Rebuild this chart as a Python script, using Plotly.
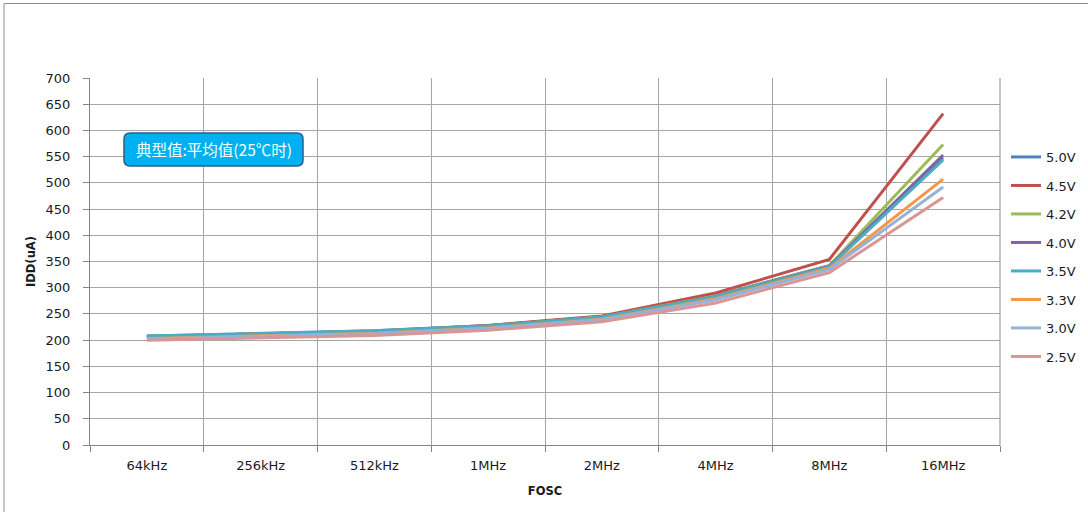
import plotly.graph_objects as go

categories = ["64kHz", "256kHz", "512kHz", "1MHz", "2MHz", "4MHz", "8MHz", "16MHz"]
series_names = ["5.0V", "4.5V", "4.2V", "4.0V", "3.5V", "3.3V", "3.0V", "2.5V"]
v50 = [208, 213, 218, 228, 245, 285, 342, 548]
v45 = [207, 212, 217, 228, 246, 290, 354, 632]
v42 = [207, 212, 217, 227, 244, 284, 342, 573]
v40 = [206, 211, 216, 226, 243, 283, 341, 553]
v35 = [208, 212, 218, 227, 244, 283, 340, 544]
v33 = [203, 208, 213, 223, 240, 279, 337, 507]
v30 = [202, 207, 212, 222, 239, 277, 335, 492]
v25 = [200, 204, 209, 219, 235, 271, 329, 472]
series_values = [v50, v45, v42, v40, v35, v33, v30, v25]
colors = ["#4F81BD", "#C0504D", "#9BBB59", "#8064A2", "#4BACC6", "#F79646", "#95B3D7", "#D99694"]
y_ticks = list(range(0, 701, 50))
note_text = "典型值:平均值(25℃时)"

W, H = 1088, 512
L, R, T, B = 90, 88, 78, 67
pw, ph = W - L - R, H - T - B

def px_x(x):
    return (x - L) / pw

def px_y(y):
    return (H - B - y) / ph

fig = go.Figure()
for name, vals, col in zip(series_names, series_values, colors):
    fig.add_trace(go.Scatter(
        x=categories, y=vals, name=name, mode="lines",
        line=dict(color=col, width=3), legendgroup=name,
    ))

grid = "#A6A6A6"
axis_col = "#868686"
base_font = "DejaVu Sans, Verdana, sans-serif"
fig.update_layout(
    width=W, height=H,
    margin=dict(l=L, r=R, t=T, b=B, autoexpand=False),
    paper_bgcolor="white", plot_bgcolor="white",
    font=dict(family=base_font, size=13, color="#1A1A1A"),
    showlegend=True,
    legend=dict(
        x=px_x(1006), y=px_y(142), xanchor="left", yanchor="top",
        traceorder="grouped", tracegroupgap=8.6,
        font=dict(size=13, color="#1A1A1A"),
        bgcolor="rgba(0,0,0,0)", itemwidth=30,
    ),
    xaxis=dict(
        type="category", categoryorder="array", categoryarray=categories,
        range=[-0.5, len(categories) - 0.5],
        showgrid=True, gridcolor=grid, gridwidth=1.3, tickson="boundaries",
        ticks="outside", ticklen=6, tickcolor=axis_col,
        showline=True, linecolor=axis_col, linewidth=1, mirror=False,
        tickfont=dict(size=13), ticklabelstandoff=8,
        title=dict(text="<b>FOSC</b>", font=dict(size=11.5), standoff=15),
        zeroline=False,
    ),
    yaxis=dict(
        range=[0, 700], tickvals=y_ticks, ticktext=[str(v) for v in y_ticks],
        showgrid=True, gridcolor=grid, gridwidth=1.3,
        ticks="outside", ticklen=6, tickcolor=axis_col,
        showline=True, linecolor=axis_col, linewidth=1,
        tickfont=dict(size=13), ticklabelstandoff=10,
        title=dict(text="<b>IDD(uA)</b>", font=dict(size=11.5), standoff=7),
        zeroline=False,
    ),
)

# right border of plot area (gridline at last boundary)
fig.add_shape(type="line", xref="paper", yref="paper", x0=1, x1=1, y0=0, y1=1,
              line=dict(color=grid, width=1.3))

# outer chart frame
fig.add_shape(type="rect", xref="paper", yref="paper",
              x0=px_x(4), x1=px_x(1100), y0=px_y(530), y1=px_y(3.5),
              line=dict(color="#8C8C8C", width=1), fillcolor="rgba(0,0,0,0)", layer="below")

# rounded note box
x0, x1, y0, y1 = px_x(124), px_x(303), px_y(166), px_y(133)
rx, ry = 6 / pw, 6 / ph
path = (f"M {x0+rx},{y1} L {x1-rx},{y1} Q {x1},{y1} {x1},{y1-ry} "
        f"L {x1},{y0+ry} Q {x1},{y0} {x1-rx},{y0} L {x0+rx},{y0} "
        f"Q {x0},{y0} {x0},{y0+ry} L {x0},{y1-ry} Q {x0},{y1} {x0+rx},{y1} Z")
fig.add_shape(type="path", xref="paper", yref="paper", path=path,
              fillcolor="#00B0F0", line=dict(color="#2F5B8A", width=1.5), layer="above")
fig.add_annotation(xref="paper", yref="paper", x=(x0 + x1) / 2, y=(y0 + y1) / 2,
                   xanchor="center", yanchor="middle",
                   text=note_text, showarrow=False,
                   font=dict(family="Noto Sans CJK SC, sans-serif", size=15.5, color="white"))

fig.write_html("out.html", config={"displayModeBar": False},
               post_script="document.body.style.margin='0';")
